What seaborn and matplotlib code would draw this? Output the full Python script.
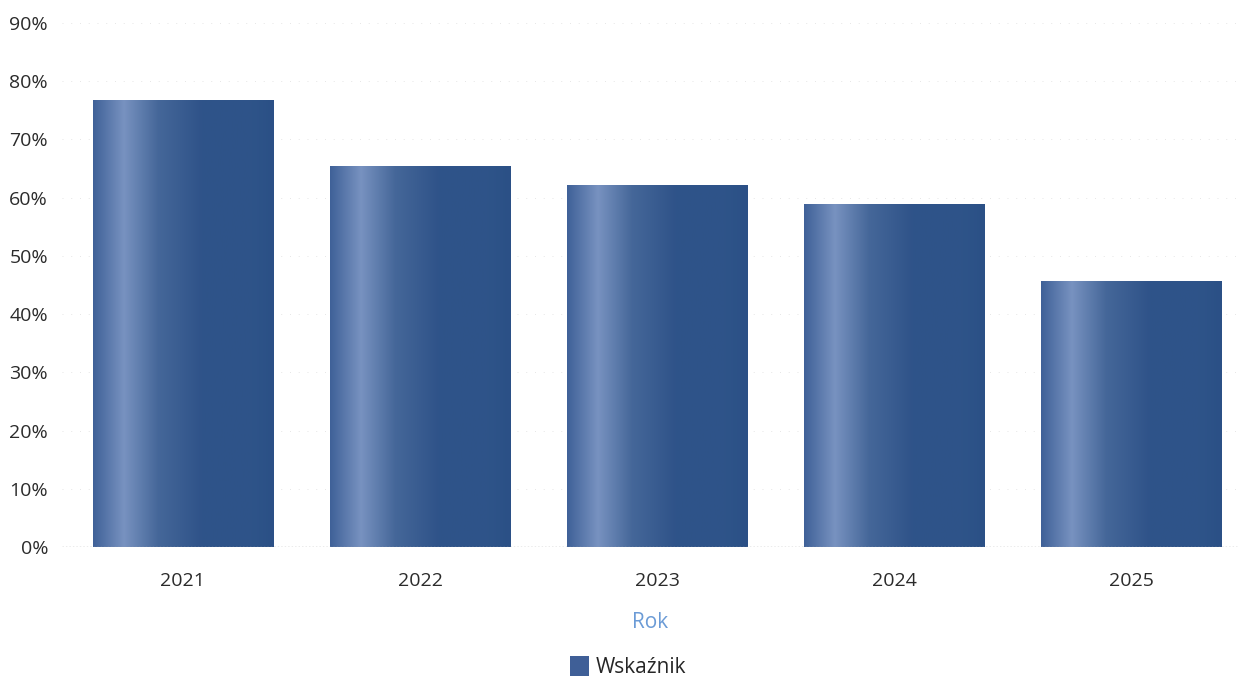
import numpy as np
import pandas as pd
import matplotlib
matplotlib.use("Agg")
import matplotlib.pyplot as plt
from matplotlib.colors import LinearSegmentedColormap
from matplotlib.patches import Patch
import seaborn as sns

years = ["2021", "2022", "2023", "2024", "2025"]
values = [76.8, 65.4, 62.2, 58.9, 45.7]
series_name = "Wskaźnik"
y_ticks = [0, 10, 20, 30, 40, 50, 60, 70, 80, 90]

df = pd.DataFrame({"Rok": years, "value": values})

sns.set_theme(style="white")
plt.rcParams['font.family'] = ['Open Sans', 'DejaVu Sans']

fig = plt.figure(figsize=(12.38, 6.8), dpi=100)
ax = fig.add_axes([62/1238, (680-547)/680, (1238-62)/1238, (547-23)/680])

base = "#2f5489"
sns.barplot(data=df, x="Rok", y="value", color=base, width=0.76, ax=ax,
            saturation=1, zorder=3)

cmap = LinearSegmentedColormap.from_list(
    "bar", [(0.0, "#3f6198"), (0.17, "#7892c0"), (0.36, "#456799"),
            (0.6, "#2f5389"), (0.88, "#2e5489"), (1.0, "#2b5086")])
grad = np.linspace(0, 1, 256).reshape(1, -1)
for p in ax.patches:
    x0, y0 = p.get_x(), p.get_y()
    w, h = p.get_width(), p.get_height()
    im = ax.imshow(grad, cmap=cmap, extent=[x0, x0 + w, y0, y0 + h],
                   aspect="auto", zorder=4, interpolation="bicubic")
    im.set_clip_path(p)

ax.set_xlim(-0.51, 4.45)
ax.set_ylim(0, 90)
ax.set_yticks(y_ticks)
ax.set_yticklabels([f"{t}%" for t in y_ticks])
for t in y_ticks[1:]:
    ax.axhline(t, color="#e6e6e6", lw=0.7, ls=(0, (1, 8)), zorder=1)
ax.axhline(0, color="#9a9a9a", lw=1.0, ls=(0, (1, 1.5)), zorder=5)

for s in ax.spines.values():
    s.set_visible(False)
ax.tick_params(axis="both", length=0, labelsize=14, colors="#2b2b2b")
ax.tick_params(axis="x", pad=18)
ax.tick_params(axis="y", pad=10)
ax.set_ylabel("")
ax.set_xlabel("Rok", fontsize=15, color="#6b9bd6", labelpad=16)

handle = Patch(facecolor="#3f5f97", edgecolor="none")
fig.legend([handle], [series_name], loc="center", bbox_to_anchor=(628/1238, 1 - 667/680),
           frameon=False, fontsize=15, handlelength=0.9, handleheight=1.1,
           handletextpad=0.3)

fig.savefig("out.png", dpi=100)
